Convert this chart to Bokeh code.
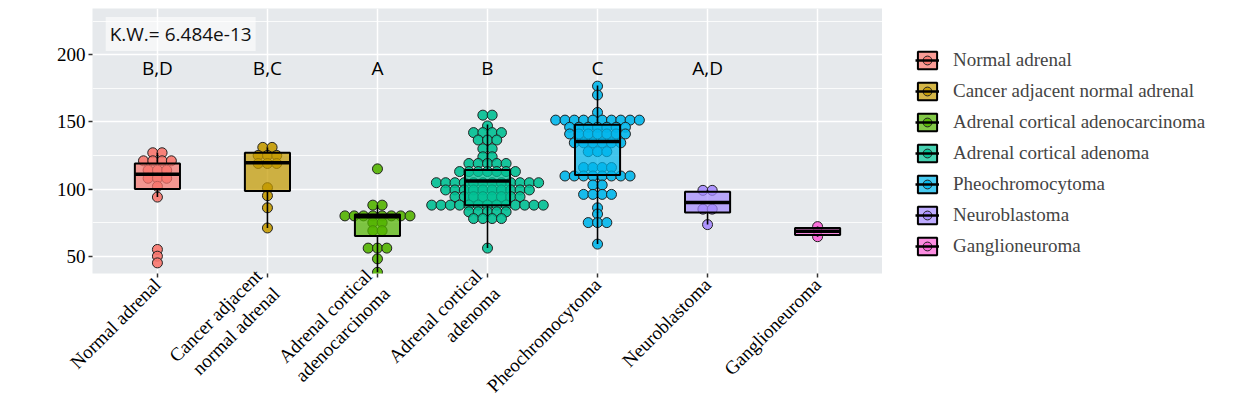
import math
from collections import Counter
from bokeh.plotting import figure
from bokeh.layouts import row
from bokeh.models import Range1d, FixedTicker, Label, Legend, LegendItem, ColumnDataSource
from bokeh.embed import file_html
from bokeh.resources import INLINE
from bokeh.core.properties import value

groups = ["Normal adrenal", "Cancer adjacent normal adrenal", "Adrenal cortical adenocarcinoma",
          "Adrenal cortical adenoma", "Pheochromocytoma", "Neuroblastoma", "Ganglioneuroma"]
tick_labels = ["Normal adrenal", "Cancer adjacent\nnormal adrenal", "Adrenal cortical\nadenocarcinoma",
               "Adrenal cortical\nadenoma", "Pheochromocytoma", "Neuroblastoma", "Ganglioneuroma"]
colors = ["#F8766D", "#C49A00", "#53B400", "#00C094", "#00B6EB", "#A58AFF", "#FB61D7"]
letters = ["B,D", "B,C", "A", "B", "C", "A,D"]
kw_text = "K.W.= 6.484e-13"

# individual values (dot plot)
normal_adrenal = [127, 127, 121, 121, 121, 121, 114, 114, 114, 108, 108, 108, 102, 94, 55, 50, 45]
cancer_adjacent = [131, 131, 125, 125, 125, 119, 119, 119, 101, 95, 86, 71]
adenocarcinoma = [115, 88, 88, 80, 80, 80, 80, 80, 80, 80, 80, 75, 75, 69, 69, 56, 56, 56, 48, 38]
adenoma = [155, 155, 147, 142, 142, 142, 142, 136.5, 136.5, 136.5, 130, 130, 124, 124,
           119, 119, 119, 119, 119,
           113, 113, 113, 113, 113, 113, 113,
           104.7, 104.7, 104.7, 104.7, 104.7, 104.7, 104.7, 104.7, 104.7, 104.7, 104.7, 104.7,
           99.3, 99.3, 99.3, 99.3, 99.3, 99.3, 99.3, 99.3, 99.3, 99.3,
           94.3, 94.3, 94.3, 94.3, 94.3, 94.3, 94.3, 94.3,
           88, 88, 88, 88, 88, 88, 88, 88, 88, 88, 88, 88, 88,
           83, 83, 83, 83, 83, 78, 78, 78, 78, 56]
pheochromocytoma = [176.6, 170, 157,
                    151.3, 151.3, 151.3, 151.3, 151.3, 151.3, 151.3, 151.3, 151.3, 151.3,
                    146, 146, 146, 146, 146, 146, 146,
                    141, 141, 141, 141, 141, 141, 141,
                    134.4, 134.4, 134.4, 134.4, 134.4, 134.4,
                    127.8, 127.8, 127.8, 116, 116, 116, 116,
                    109.7, 109.7, 109.7, 109.7, 109.7, 109.7, 109.7, 109.7,
                    103, 103, 96, 96, 96, 96, 86, 81.4, 75, 75, 75, 59]
neuroblastoma = [99, 99, 85, 85, 73.5]
ganglioneuroma = [72, 64.5]
values = [normal_adrenal, cancer_adjacent, adenocarcinoma, adenoma, pheochromocytoma,
          neuroblastoma, ganglioneuroma]

# box statistics
q1 = [100, 98.5, 65, 88, 110.4, 82.6, 65.7]
median = [111, 119.6, 79.3, 106, 135.3, 90, 68.5]
q3 = [119, 127, 81, 114.2, 147.8, 98, 71]
whisk_lo = [94, 71, 38, 56, 59, 73.5, 64.5]
whisk_hi = [127, 131, 88, 148, 177, 99, 72]

DOT_STEP = 0.0845
BOX_HALF = 0.205
PANEL_BG = "#E6E9EC"

p = figure(width=882, height=412, x_range=Range1d(0.41, 7.59), y_range=Range1d(37.1, 234.4),
           output_backend="svg", toolbar_location=None,
           min_border_left=92, min_border_right=0, min_border_top=8, min_border_bottom=139)
p.background_fill_color = PANEL_BG
p.border_fill_color = "white"
p.outline_line_color = None

pos = list(range(1, len(groups) + 1))

for i, (vals, col) in enumerate(zip(values, colors)):
    cnt = Counter(vals)
    seen = Counter()
    xs = []
    for v in vals:
        n = cnt[v]
        k = seen[v]
        seen[v] += 1
        xs.append(pos[i] + (k - (n - 1) / 2) * DOT_STEP)
    src = ColumnDataSource(dict(x=xs, y=vals))
    p.scatter("x", "y", source=src, size=10, fill_color=col, fill_alpha=0.9,
              line_color="#222222", line_width=1)

for i, col in enumerate(colors):
    x = pos[i]
    p.segment(x0=[x, x], x1=[x, x], y0=[whisk_lo[i], q3[i]], y1=[q1[i], whisk_hi[i]],
              line_color="black", line_width=1.6)
    p.quad(left=[x - BOX_HALF], right=[x + BOX_HALF], bottom=[q1[i]], top=[q3[i]],
           fill_color=col, fill_alpha=0.72, line_color="black", line_width=2)
    p.segment(x0=[x - BOX_HALF], x1=[x + BOX_HALF], y0=[median[i]], y1=[median[i]],
              line_color="black", line_width=3.5)

letter_y = 190
p.text(x=pos[:len(letters)], y=[letter_y] * len(letters), text=letters,
       text_font=value("Open Sans"), text_font_size="19px", text_align="center",
       text_baseline="middle", text_color="black")

kw = Label(x=0.53, y=215.5, text=kw_text, text_font="Open Sans", text_font_size="19px",
           text_baseline="middle", text_align="left", background_fill_color="white",
           background_fill_alpha=0.6, padding=4, text_color="#111111")
p.add_layout(kw)

# grids
p.xgrid.ticker = FixedTicker(ticks=pos)
p.xgrid.grid_line_color = "white"
p.xgrid.grid_line_width = 1.5
p.yaxis.ticker = FixedTicker(ticks=[50, 100, 150, 200], minor_ticks=[75, 125, 175, 225])
p.ygrid.grid_line_color = "white"
p.ygrid.grid_line_width = 1.5
p.ygrid.minor_grid_line_color = "white"
p.ygrid.minor_grid_line_width = 0.8

# axes
p.xaxis.ticker = FixedTicker(ticks=pos)
p.xaxis.major_label_overrides = {k: lab for k, lab in zip(pos, tick_labels)}
p.xaxis.major_label_orientation = math.pi / 4
for ax in (p.xaxis, p.yaxis):
    ax.axis_line_color = None
    ax.minor_tick_line_color = None
    ax.major_tick_in = 0
    ax.major_tick_out = 4
    ax.major_tick_line_color = "#333333"
    ax.major_tick_line_width = 1.5
    ax.major_label_text_font = "Liberation Serif"
    ax.major_label_text_font_size = "19px"
    ax.major_label_text_color = "black"
p.yaxis.major_label_standoff = 3
p.xaxis.major_label_standoff = 4

# legend panel (proxy glyphs use the box data but lie outside this panel's ranges)
pl = figure(width=363, height=412, x_range=Range1d(-10, -9), y_range=Range1d(-10, -9),
            output_backend="svg", toolbar_location=None,
            min_border_left=0, min_border_right=0, min_border_top=8, min_border_bottom=139)
pl.axis.visible = False
pl.grid.visible = False
pl.outline_line_color = None
pl.background_fill_color = "white"
pl.border_fill_color = "white"

items = []
for i, (g, col) in enumerate(zip(groups, colors)):
    x = pos[i]
    rq = pl.quad(left=[x - BOX_HALF], right=[x + BOX_HALF], bottom=[q1[i]], top=[q3[i]],
                 fill_color=col, fill_alpha=0.72, line_color="black", line_width=2)
    rs = pl.scatter(x=[x], y=[median[i]], size=10, fill_color=col, fill_alpha=0.9,
                    line_color="#222222", line_width=1)
    rm = pl.segment(x0=[x - BOX_HALF], x1=[x + BOX_HALF], y0=[median[i]], y1=[median[i]],
                    line_color="black", line_width=2.5)
    items.append(LegendItem(label=g, renderers=[rq, rs, rm]))

legend = Legend(items=items, location=(33, 16), border_line_color=None, background_fill_alpha=0,
                glyph_width=24, glyph_height=22, label_height=22, spacing=9, label_standoff=14,
                label_text_font="Liberation Serif", label_text_font_size="19px",
                label_text_baseline="middle", padding=0, margin=0)
pl.add_layout(legend)

layout = row(p, pl)
open("out.html", "w").write(file_html(layout, INLINE))
